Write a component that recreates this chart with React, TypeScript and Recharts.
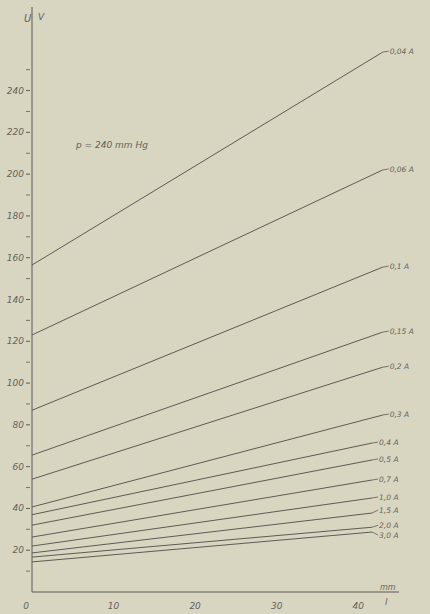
import React from "react";
import { LineChart, Line, XAxis, YAxis } from "recharts";

const currents = ["0,04 A", "0,06 A", "0,1 A", "0,15 A", "0,2 A", "0,3 A", "0,4 A", "0,5 A", "0,7 A", "1,0 A", "1,5 A", "2,0 A", "3,0 A"];
const startL = [0, 0, 0, 0, 0, 0, 0, 0, 0, 0, 0, 0, 0];
const endL = [43, 43, 43, 43, 43, 43, 41.7, 41.7, 41.7, 41.7, 41.7, 41.7, 41.7];
const startU = [156.5, 123, 87, 65.5, 54, 40.7, 37, 32, 26.3, 22, 18.7, 16.7, 14.4];
const endU = [258.4, 202, 155.5, 124.4, 107.6, 84.7, 71.3, 63.2, 53.6, 45, 37.8, 31, 28.7];
const yTicks = [0, 10, 20, 30, 40, 50, 60, 70, 80, 90, 100, 110, 120, 130, 140, 150, 160, 170, 180, 190, 200, 210, 220, 230, 240, 250];
const xTicks = [0, 10, 20, 30, 40];

const INK = "#5c5b55";
const TEXT = "#64635c";
const FONT = "'DejaVu Sans', sans-serif";

const YTick = (props: any) => {
  const { x, y, payload } = props;
  const v = payload.value;
  if (v === 0) return null;
  const major = v % 20 === 0;
  return (
    <g>
      <line x1={x + 2} x2={x + 6} y1={y} y2={y} stroke={INK} strokeWidth={major ? 1 : 0.8} />
      {major && (
        <text x={x} y={y + 3} textAnchor="end" fontSize={9} fontStyle="italic" fontFamily={FONT} fill={TEXT}>
          {v}
        </text>
      )}
    </g>
  );
};

const XTick = (props: any) => {
  const { x, y, payload } = props;
  const v = payload.value;
  return (
    <text x={v === 0 ? x - 6 : x} y={y + 9} textAnchor="middle" fontSize={9} fontStyle="italic" fontFamily={FONT} fill={TEXT}>
      {v}
    </text>
  );
};

const makeLabel = (name: string, n: number, dy: number) => (props: any) => {
  const { x, y, index } = props;
  if (index !== n - 1) return null;
  return (
    <g>
      <line x1={x} y1={y} x2={x + 6} y2={y + dy - 1} stroke={INK} strokeWidth={0.8} />
      <text x={x + 7} y={y + dy + 2} fontSize={7.5} fontStyle="italic" fontFamily={FONT} fill={TEXT}>
        {name}
      </text>
    </g>
  );
};

const series = currents.map((name, i) => ({
  name,
  dy: name === "3,0 A" ? 4 : name === "2,0 A" ? -1 : name === "1,5 A" ? -2 : 0,
  data: [
    { l: startL[i], u: startU[i] },
    { l: endL[i], u: endU[i] },
  ],
}));

export default function App() {
  return (
    <div style={{ position: "absolute", left: 0, top: 0, width: 430, height: 614, background: "#d8d5c1" }}>
      <LineChart width={430} height={614} margin={{ top: 7, right: 31, bottom: 0, left: 0 }}>
        <XAxis
          type="number"
          dataKey="l"
          domain={[0, 45]}
          ticks={xTicks}
          allowDataOverflow
          height={22}
          axisLine={{ stroke: INK, strokeWidth: 1 }}
          tickLine={false}
          tick={<XTick />}
        />
        <YAxis
          type="number"
          dataKey="u"
          domain={[0, 280]}
          ticks={yTicks}
          interval={0}
          allowDataOverflow
          width={32}
          axisLine={{ stroke: INK, strokeWidth: 1 }}
          tickLine={false}
          tick={<YTick />}
        />
        {series.map((s) => (
          <Line
            key={s.name}
            data={s.data}
            dataKey="u"
            type="linear"
            stroke={INK}
            strokeWidth={1}
            dot={false}
            activeDot={false}
            isAnimationActive={false}
            label={makeLabel(s.name, s.data.length, s.dy)}
          />
        ))}
        <text x={24} y={22} fontSize={10} fontStyle="italic" fontFamily={FONT} fill={TEXT}>U</text>
        <text x={38} y={20} fontSize={9} fontStyle="italic" fontFamily={FONT} fill={TEXT}>V</text>
        <text x={76} y={148} fontSize={9} fontStyle="italic" fontFamily={FONT} fill={TEXT}>p = 240 mm Hg</text>
        <text x={380} y={590} fontSize={8} fontStyle="italic" fontFamily={FONT} fill={TEXT}>mm</text>
        <text x={385} y={605} fontSize={9} fontStyle="italic" fontFamily={FONT} fill={TEXT}>l</text>
      </LineChart>
    </div>
  );
}
